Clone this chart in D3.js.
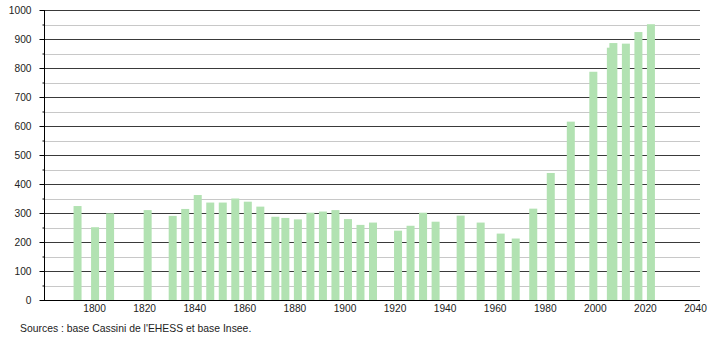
<!DOCTYPE html>
<html>
<head>
<meta charset="utf-8">
<script src="https://cdn.jsdelivr.net/npm/d3@7"></script>
<style>
  body { margin: 0; background: #fff; }
  svg text { font-family: "Liberation Sans", Arial, sans-serif; }
</style>
</head>
<body>
<div id="chart"></div>
<script>
// Census years and population
const years = [1793, 1800, 1806, 1821, 1831, 1836, 1841, 1846, 1851, 1856, 1861, 1866,
  1872, 1876, 1881, 1886, 1891, 1896, 1901, 1906, 1911, 1921, 1926, 1931, 1936,
  1946, 1954, 1962, 1968, 1975, 1982, 1990, 1999, 2006, 2007, 2012, 2017, 2022];
const population = [324, 251, 299, 310, 290, 314, 362, 336, 336, 350, 339, 322,
  287, 283, 278, 301, 305, 310, 279, 259, 267, 239, 256, 301, 270,
  291, 267, 229, 212, 315, 438, 615, 787, 870, 886, 884, 924, 951];
const xTicks = [1800, 1820, 1840, 1860, 1880, 1900, 1920, 1940, 1960, 1980, 2000, 2020, 2040];
const source = "Sources : base Cassini de l'EHESS et base Insee.";

const data = years.map((y, i) => ({ year: y, value: population[i] }));

const width = 710, height = 340;
const plot = { left: 44, right: 700, top: 10, bottom: 300 };

const svg = d3.select('#chart').append('svg')
  .attr('width', width)
  .attr('height', height);

const x = d3.scaleLinear().domain([1780, 2042]).range([plot.left, plot.right]);
const y = d3.scaleLinear().domain([0, 1000]).range([plot.bottom, plot.top]);

// minor grid every 50, major every 100
const minor = d3.range(50, 1000, 100);
const major = d3.range(100, 1001, 100);

svg.append('g').selectAll('line')
  .data(minor)
  .join('line')
  .attr('x1', plot.left).attr('x2', plot.right)
  .attr('y1', d => Math.round(y(d)) + 0.5).attr('y2', d => Math.round(y(d)) + 0.5)
  .attr('stroke', '#c8c8c8');

svg.append('g').selectAll('line')
  .data(major)
  .join('line')
  .attr('x1', plot.left).attr('x2', plot.right)
  .attr('y1', d => Math.round(y(d)) + 0.5).attr('y2', d => Math.round(y(d)) + 0.5)
  .attr('stroke', '#3a3a3a');

// bars
svg.append('g').selectAll('rect')
  .data(data)
  .join('rect')
  .attr('x', d => x(d.year) - 3)
  .attr('width', 8)
  .attr('y', d => y(d.value))
  .attr('height', d => y(0) - y(d.value))
  .attr('fill', '#b2e2b2');

// y axis
const yAxis = d3.axisLeft(y)
  .tickValues(d3.range(0, 1001, 50))
  .tickSize(0)
  .tickFormat(d => d % 100 === 0 ? d : '');
const gy = svg.append('g')
  .attr('transform', `translate(${plot.left + 0.5},0)`)
  .call(yAxis);
gy.select('.domain').remove();
gy.selectAll('.tick line')
  .attr('x2', d => d % 100 === 0 ? -5 : -2)
  .attr('stroke', '#000');
gy.selectAll('.tick text')
  .attr('x', -13)
  .attr('font-size', 10.2)
  .attr('fill', '#222');
svg.append('line')
  .attr('x1', plot.left + 0.5).attr('x2', plot.left + 0.5)
  .attr('y1', plot.top).attr('y2', plot.bottom)
  .attr('stroke', '#000');

// x axis
const xAxis = d3.axisBottom(x).tickValues(xTicks).tickSize(0).tickFormat(d3.format('d'));
const gx = svg.append('g')
  .attr('transform', `translate(0,${plot.bottom + 0.5})`)
  .call(xAxis);
gx.select('.domain').remove();
gx.selectAll('.tick text')
  .attr('y', 4)
  .attr('font-size', 10.2)
  .attr('fill', '#222');
svg.append('line')
  .attr('x1', plot.left).attr('x2', plot.right)
  .attr('y1', plot.bottom + 0.5).attr('y2', plot.bottom + 0.5)
  .attr('stroke', '#000');

// source note
svg.append('text')
  .attr('x', 20)
  .attr('y', 332)
  .attr('font-size', 10.4)
  .attr('fill', '#222')
  .text(source);
</script>
</body>
</html>
